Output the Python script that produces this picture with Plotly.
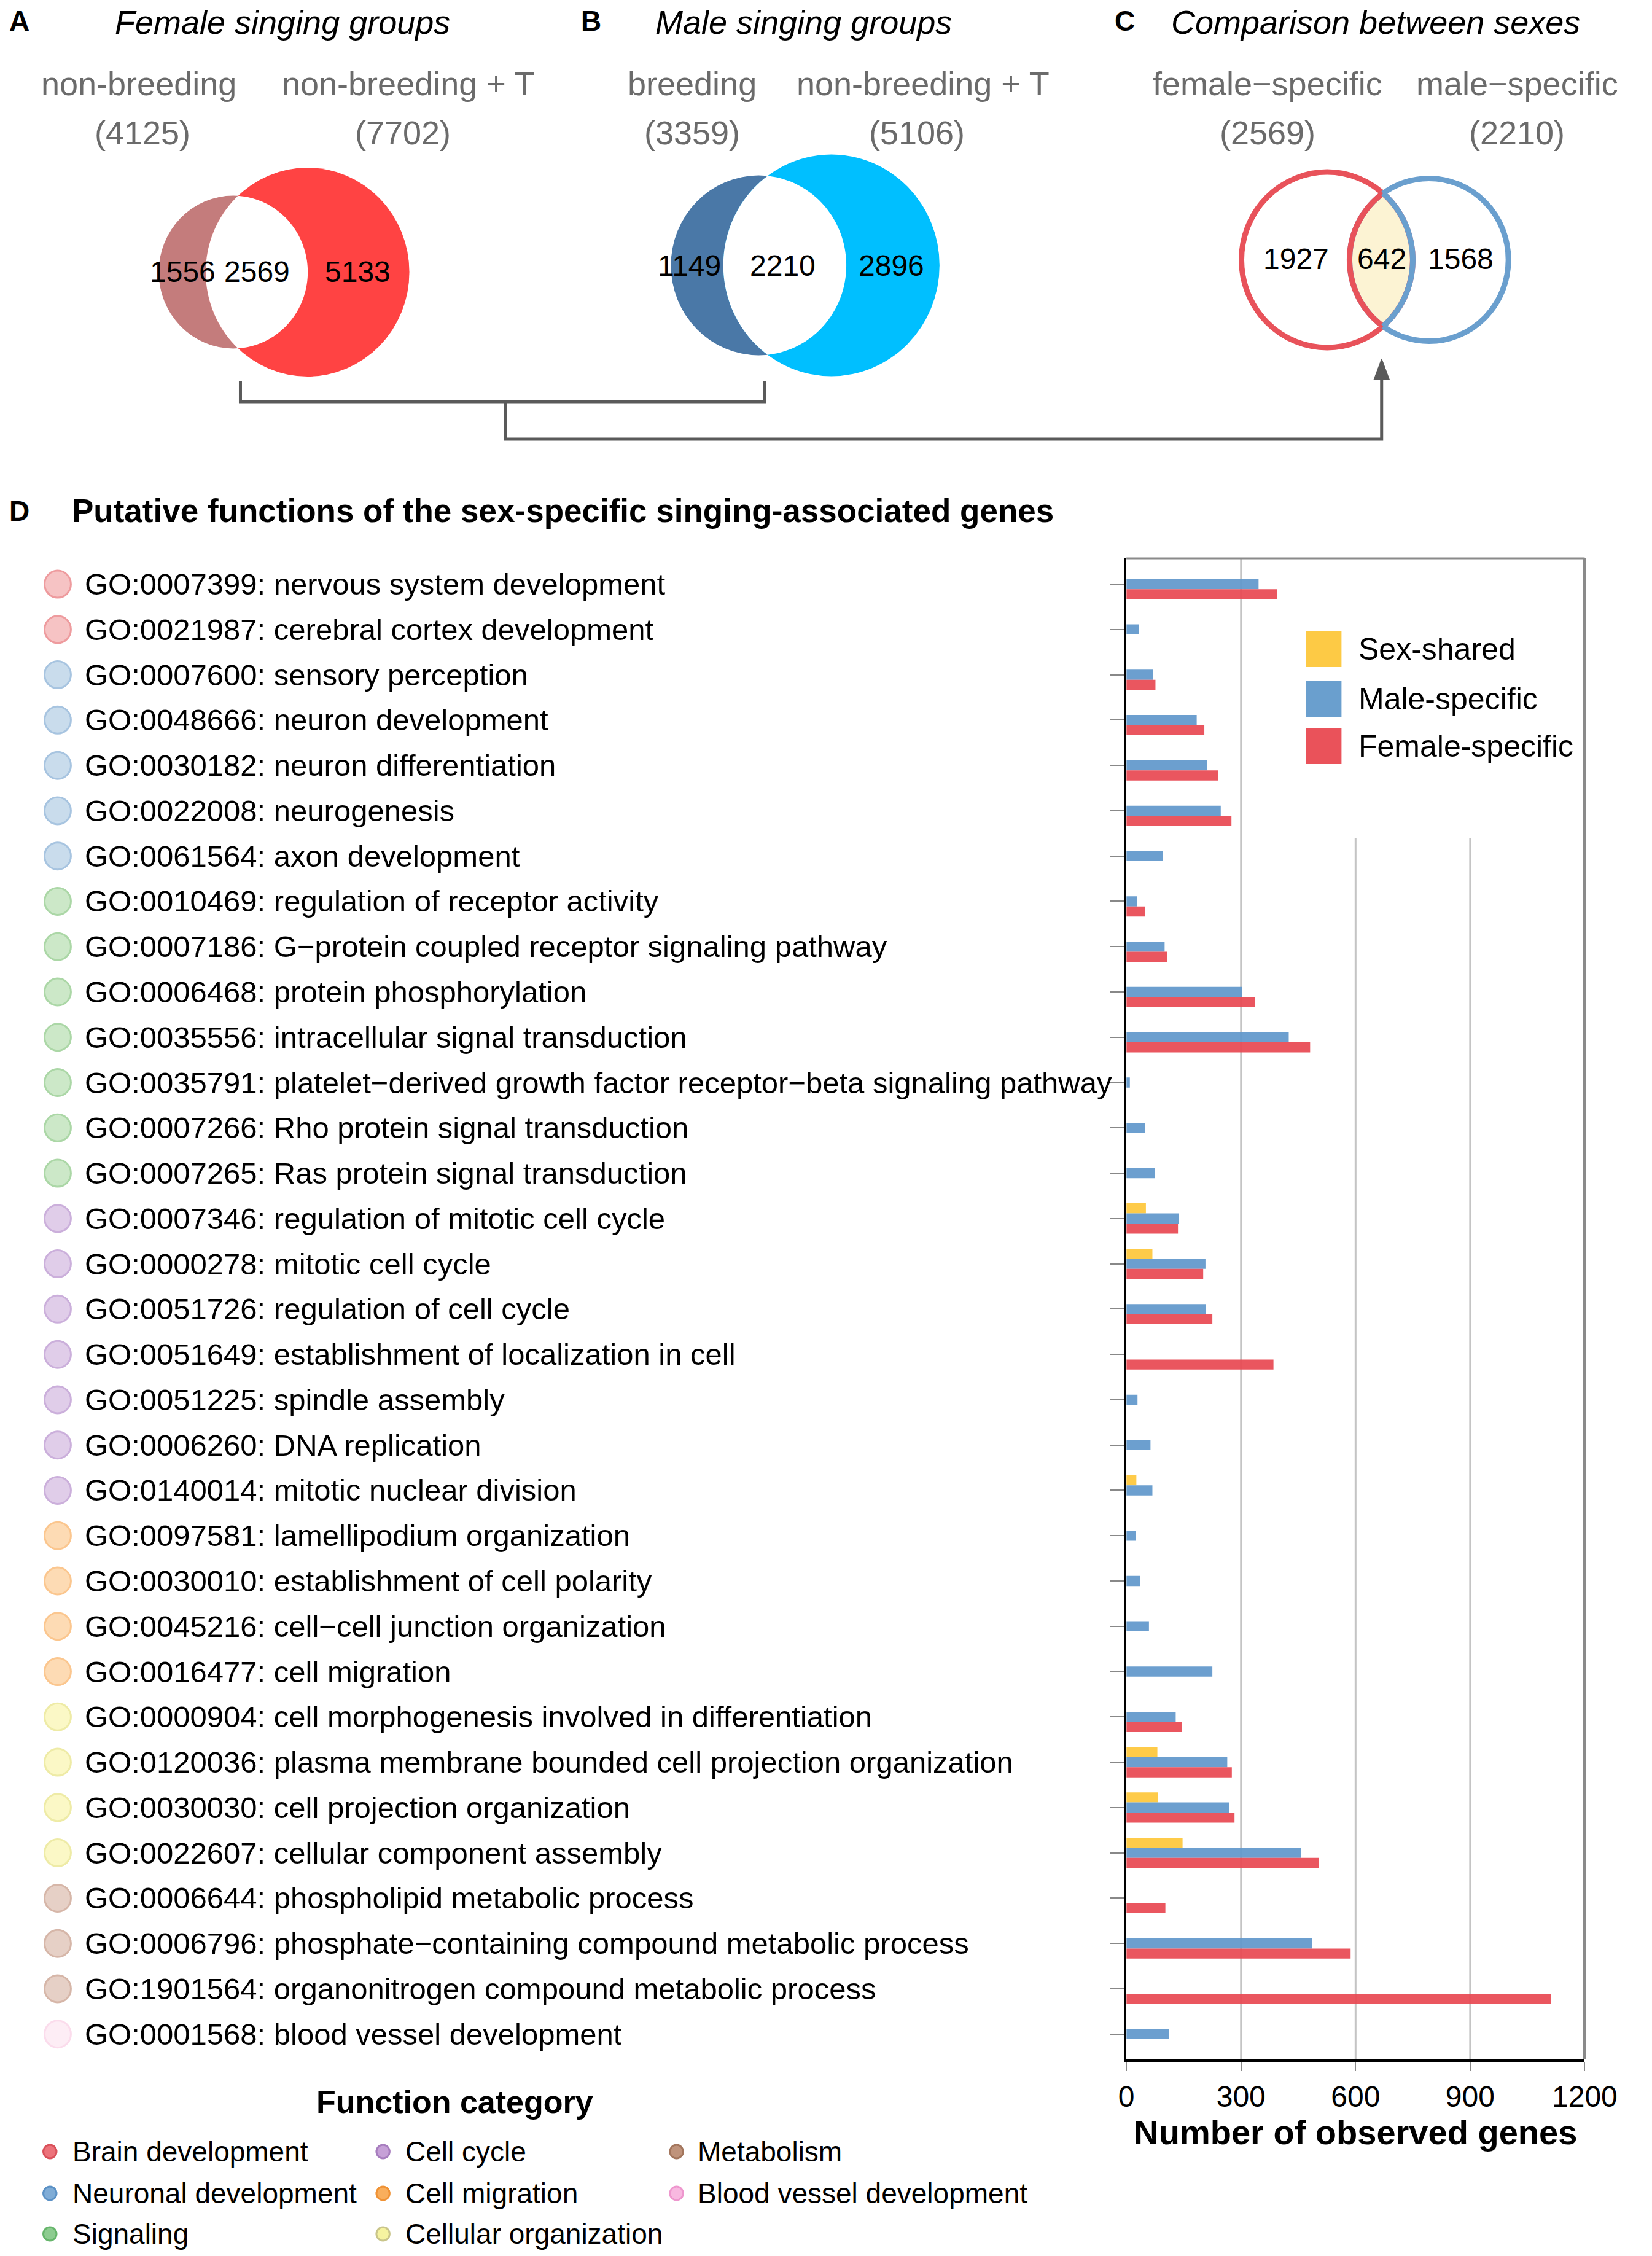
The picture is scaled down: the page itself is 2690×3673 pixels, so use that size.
import math
import numpy as np
import plotly.graph_objects as go

# ---------------- DATA ----------------
go_terms = [
    "GO:0007399: nervous system development",
    "GO:0021987: cerebral cortex development",
    "GO:0007600: sensory perception",
    "GO:0048666: neuron development",
    "GO:0030182: neuron differentiation",
    "GO:0022008: neurogenesis",
    "GO:0061564: axon development",
    "GO:0010469: regulation of receptor activity",
    "GO:0007186: G\u2212protein coupled receptor signaling pathway",
    "GO:0006468: protein phosphorylation",
    "GO:0035556: intracellular signal transduction",
    "GO:0035791: platelet\u2212derived growth factor receptor\u2212beta signaling pathway",
    "GO:0007266: Rho protein signal transduction",
    "GO:0007265: Ras protein signal transduction",
    "GO:0007346: regulation of mitotic cell cycle",
    "GO:0000278: mitotic cell cycle",
    "GO:0051726: regulation of cell cycle",
    "GO:0051649: establishment of localization in cell",
    "GO:0051225: spindle assembly",
    "GO:0006260: DNA replication",
    "GO:0140014: mitotic nuclear division",
    "GO:0097581: lamellipodium organization",
    "GO:0030010: establishment of cell polarity",
    "GO:0045216: cell\u2212cell junction organization",
    "GO:0016477: cell migration",
    "GO:0000904: cell morphogenesis involved in differentiation",
    "GO:0120036: plasma membrane bounded cell projection organization",
    "GO:0030030: cell projection organization",
    "GO:0022607: cellular component assembly",
    "GO:0006644: phospholipid metabolic process",
    "GO:0006796: phosphate\u2212containing compound metabolic process",
    "GO:1901564: organonitrogen compound metabolic process",
    "GO:0001568: blood vessel development",
]

term_category = (
    ["Brain development"] * 2
    + ["Neuronal development"] * 5
    + ["Signaling"] * 7
    + ["Cell cycle"] * 7
    + ["Cell migration"] * 4
    + ["Cellular organization"] * 4
    + ["Metabolism"] * 3
    + ["Blood vessel development"]
)

sex_shared = [None, None, None, None, None, None, None, None, None, None, None,
              None, None, None, 51, 68, None, None, None, None, 26, None, None,
              None, None, None, 81, 83, 147, None, None, None, None]
male_specific = [346, 33, 69, 184, 211, 247, 96, 28, 100, 302, 425, 9, 48, 75,
                 138, 207, 208, None, 29, 63, 68, 24, 36, 59, 225, 129, 264, 269,
                 457, None, 486, None, 111]
female_specific = [394, None, 76, 204, 240, 275, None, 48, 107, 337, 481, None,
                   None, None, 135, 201, 225, 385, None, None, None, None, None,
                   None, None, 146, 276, 283, 504, 102, 587, 1111, None]

series_names = ["Sex-shared", "Male-specific", "Female-specific"]
x_ticks = [0, 300, 600, 900, 1200]

category_order = ["Brain development", "Neuronal development", "Signaling",
                  "Cell cycle", "Cell migration", "Cellular organization",
                  "Metabolism", "Blood vessel development"]

venn_a_sets = ["non-breeding", "non-breeding + T"]
venn_a_totals = [4125, 7702]
venn_a_regions = [1556, 2569, 5133]
venn_b_sets = ["breeding", "non-breeding + T"]
venn_b_totals = [3359, 5106]
venn_b_regions = [1149, 2210, 2896]
venn_c_sets = ["female\u2212specific", "male\u2212specific"]
venn_c_totals = [2569, 2210]
venn_c_regions = [1927, 642, 1568]

# ---------------- STYLE / LAYOUT ----------------
W, H = 2690, 3673
FONT = "Liberation Sans, Arial, Helvetica, sans-serif"


def px(x):
    return x / W


def py(y):
    return 1 - y / H


bar_colors = ["rgba(254,199,58,0.92)", "rgba(96,151,203,0.92)", "rgba(232,72,81,0.92)"]
legend_colors = ["#FDCA45", "#6A9FCE", "#EA525A"]

row_circle_style = {
    "Brain development": ("#F6C3C4", "#EE9B9E"),
    "Neuronal development": ("#C9DCEC", "#A7C4E0"),
    "Signaling": ("#CCE8C8", "#ABD7A6"),
    "Cell cycle": ("#E0CDE9", "#CBAFDB"),
    "Cell migration": ("#FDDBB4", "#FBC68E"),
    "Cellular organization": ("#FBF8C6", "#EEEBA6"),
    "Metabolism": ("#E6D0C6", "#D6B6A8"),
    "Blood vessel development": ("#FDEDF5", "#FBDCEC"),
}
legend_dot_style = {
    "Brain development": ("#EC727A", "#D9505A"),
    "Neuronal development": ("#7FACD6", "#5B91C5"),
    "Signaling": ("#8DCC90", "#66B56B"),
    "Cell cycle": ("#C6A0D7", "#A77DBE"),
    "Cell migration": ("#F9AE5C", "#EF9235"),
    "Cellular organization": ("#F6F3A0", "#C9C58A"),
    "Metabolism": ("#BF937B", "#A3765D"),
    "Blood vessel development": ("#F8B8E0", "#EE97CE"),
}

# bar panel geometry (pixels)
PL, PR, PT, PB = 1867, 2632, 909, 3353
ROW_PAD_TOP, ROW_PAD_BOT = 0.57, 0.56

fig = go.Figure()
for name, vals, col in zip(series_names, [sex_shared, male_specific, female_specific], bar_colors):
    fig.add_trace(go.Bar(
        y=go_terms, x=vals, name=name, orientation="h",
        marker=dict(color=col, line=dict(width=0)),
        showlegend=False,
    ))

n = len(go_terms)
shapes = []
annotations = []

# custom grid lines (600/900 stop below the legend box)
for t in x_ticks[1:-1]:
    top = 1.0 if t < 600 else 1 - (1365 - PT) / (PB - PT)
    shapes.append(dict(type="line", xref="x", yref="y domain", x0=t, x1=t, y0=0, y1=top,
                       line=dict(color="#C4C4C4", width=3), layer="below"))
# top and right border
shapes.append(dict(type="line", xref="x domain", yref="y domain", x0=0, x1=1, y0=1, y1=1,
                   line=dict(color="#8A8A8A", width=3)))
shapes.append(dict(type="line", xref="x domain", yref="y domain", x0=1, x1=1, y0=0, y1=1,
                   line=dict(color="#8A8A8A", width=5)))

# left labels with category circles
unit_px = (PB - PT) / (n - 1 + ROW_PAD_TOP + ROW_PAD_BOT)
cr = 22 / unit_px
for i, (term, cat) in enumerate(zip(go_terms, term_category)):
    fc, lc = row_circle_style[cat]
    shapes.append(dict(type="circle", xref="paper", yref="y",
                       x0=px(83 - 22), x1=px(83 + 22), y0=i - cr, y1=i + cr,
                       fillcolor=fc, line=dict(color=lc, width=3)))
    annotations.append(dict(text=term, xref="paper", yref="y", x=px(126), y=term,
                            xanchor="left", yanchor="middle", showarrow=False,
                            font=dict(size=49, color="black", family=FONT)))

# bar legend (manual, large swatches)
for k, (name, col) in enumerate(zip(series_names, legend_colors)):
    yc = [1057, 1138, 1215][k]
    shapes.append(dict(type="rect", xref="paper", yref="paper",
                       x0=px(2167), x1=px(2226), y0=py(yc + 29), y1=py(yc - 29),
                       fillcolor=col, line=dict(width=0)))
    annotations.append(dict(text=name, xref="paper", yref="paper", x=px(2252), y=py(yc),
                            xanchor="left", yanchor="middle", showarrow=False,
                            font=dict(size=50, color="black", family=FONT)))

# ---------------- VENN DIAGRAMS ----------------


def circle_shape(cx, cy, r, fill=None, line_color=None, lw=0):
    d = dict(type="circle", xref="paper", yref="paper",
             x0=px(cx - r), x1=px(cx + r), y0=py(cy + r), y1=py(cy - r))
    d["fillcolor"] = fill if fill else "rgba(0,0,0,0)"
    d["line"] = dict(color=line_color if line_color else "rgba(0,0,0,0)", width=lw)
    return d


def lens_arcs(c1, r1, c2, r2, cy, m=90):
    d = c2 - c1
    a = (d * d + r1 * r1 - r2 * r2) / (2 * d)
    h = math.sqrt(r1 * r1 - a * a)
    t1 = math.atan2(h, a)
    arc1 = [(c1 + r1 * math.cos(t), cy + r1 * math.sin(t)) for t in np.linspace(-t1, t1, m)]
    phi = math.atan2(h, a - d)
    arc2 = [(c2 + r2 * math.cos(t), cy + r2 * math.sin(t)) for t in np.linspace(phi, 2 * math.pi - phi, m)]
    return arc1, arc2


def path_of(pts, close=False):
    s = "M " + " L ".join(f"{px(x):.6f},{py(y):.6f}" for x, y in pts)
    return s + (" Z" if close else "")


def text(t, x, y, size, color="black", anchor="center"):
    annotations.append(dict(text=t, xref="paper", yref="paper", x=px(x), y=py(y),
                            xanchor=anchor, yanchor="middle", showarrow=False,
                            font=dict(size=size, color=color, family=FONT)))


venn_panels = [
    dict(sets=venn_a_sets, totals=venn_a_totals, regions=venn_a_regions,
         cx=(376, 500), cy=443, k=1.937, fills=("#C47C7C", "#FF4343"),
         set_x=((218, 225), (668, 659)), reg_x=(292, 416, 584), reg_y=443),
    dict(sets=venn_b_sets, totals=venn_b_totals, regions=venn_b_regions,
         cx=(1253, 1374.5), cy=432, k=2.526, fills=("#4A78A7", "#00BFFF"),
         set_x=((1142, 1142), (1527, 1517)), reg_x=(1137, 1293, 1475), reg_y=432),
]
for vp in venn_panels:
    r1 = vp["k"] * math.sqrt(vp["totals"][0])
    r2 = vp["k"] * math.sqrt(vp["totals"][1])
    c1, c2 = vp["cx"]
    shapes.append(circle_shape(c1, vp["cy"], r1, fill=vp["fills"][0]))
    shapes.append(circle_shape(c2, vp["cy"], r2, fill=vp["fills"][1]))
    a1, a2 = lens_arcs(c1, r1, c2, r2, vp["cy"])
    shapes.append(dict(type="path", xref="paper", yref="paper", path=path_of(a1 + a2, True),
                       fillcolor="white", line=dict(width=0)))
    for (lx, tx), s, tot in zip(vp["set_x"], vp["sets"], vp["totals"]):
        text(s, lx, 136, 54, "#6B6B6B")
        text(f"({tot})", tx, 216, 54, "#6B6B6B")
    for rx, val in zip(vp["reg_x"], vp["regions"]):
        text(str(val), rx, vp["reg_y"], 48)

# panel C: outlined circles
cC1, cC2, cyC = 2202, 2372, 423
kC = 2.821
rC1 = kC * math.sqrt(venn_c_totals[0])
rC2 = kC * math.sqrt(venn_c_totals[1])
red_line, blue_line = "#E8525A", "#6A9FCE"
a1, a2 = lens_arcs(cC1, rC1, cC2, rC2, cyC)
shapes.append(dict(type="path", xref="paper", yref="paper", path=path_of(a1 + a2, True),
                   fillcolor="#FCF3D3", line=dict(width=0)))
shapes.append(circle_shape(cC1, cyC, rC1, line_color=red_line, lw=9))
shapes.append(circle_shape(cC2, cyC, rC2, line_color=blue_line, lw=9))
shapes.append(dict(type="path", xref="paper", yref="paper", path=path_of(a2),
                   fillcolor="rgba(0,0,0,0)", line=dict(color=red_line, width=9)))
shapes.append(dict(type="path", xref="paper", yref="paper", path=path_of(a1),
                   fillcolor="rgba(0,0,0,0)", line=dict(color=blue_line, width=9)))
for (lx, tx), s, tot in zip(((2103, 2103), (2519, 2519)), venn_c_sets, venn_c_totals):
    text(s, lx, 136, 54, "#6B6B6B")
    text(f"({tot})", tx, 216, 54, "#6B6B6B")
for rx, val in zip((2150, 2293, 2425), venn_c_regions):
    text(str(val), rx, 422, 48)

# connectors
conn = "#5A5A5A"
shapes.append(dict(type="path", xref="paper", yref="paper",
                   path=path_of([(388, 621), (388, 654), (1263, 654), (1263, 621)]),
                   fillcolor="rgba(0,0,0,0)", line=dict(color=conn, width=5)))
shapes.append(dict(type="path", xref="paper", yref="paper",
                   path=path_of([(830, 654), (830, 715), (2293, 715), (2293, 612)]),
                   fillcolor="rgba(0,0,0,0)", line=dict(color=conn, width=5)))
shapes.append(dict(type="path", xref="paper", yref="paper",
                   path=path_of([(2280, 618), (2306, 618), (2293, 584)], True),
                   fillcolor=conn, line=dict(color=conn, width=1)))

# panel letters and titles
text("<b>A</b>", 19, 34, 46)
text("<b>B</b>", 973, 34, 46)
text("<b>C</b>", 1864, 34, 46)
text("<b>D</b>", 19, 832, 46)
text("<i>Female singing groups</i>", 458, 36, 54)
text("<i>Male singing groups</i>", 1328, 36, 54)
text("<i>Comparison between sexes</i>", 2283, 36, 54)
text("<b>Putative functions of the sex-specific singing-associated genes</b>", 105, 832, 53,
     anchor="left")

# function category legend
text("<b>Function category</b>", 746, 3422, 52)
col_x = [(70, 106), (626, 661), (1116, 1149)]
row_y = [3503, 3571, 3637]
for j, cat in enumerate(category_order):
    c, r = divmod(j, 3)
    dx, tx = col_x[c]
    fc, lc = legend_dot_style[cat]
    shapes.append(circle_shape(dx, row_y[r], 11, fill=fc, line_color=lc, lw=3))
    text(cat, tx, row_y[r], 46, anchor="left")

fig.update_layout(
    width=W, height=H, margin=dict(l=0, r=0, t=0, b=0),
    paper_bgcolor="white", plot_bgcolor="white",
    barmode="group", bargap=0.33, bargroupgap=0,
    font=dict(family=FONT, color="black"),
    shapes=shapes, annotations=annotations,
    xaxis=dict(domain=[px(PL), px(PR)], range=[x_ticks[0], x_ticks[-1]],
               tickvals=x_ticks, ticktext=[str(t) for t in x_ticks],
               showgrid=False, zeroline=False,
               showline=True, linecolor="black", linewidth=4,
               ticks="outside", ticklen=15, tickwidth=2, tickcolor="#888888",
               tickfont=dict(size=48, color="black", family=FONT),
               title=dict(text="<b>Number of observed genes</b>", standoff=12,
                          font=dict(size=56, color="black", family=FONT))),
    yaxis=dict(domain=[py(PB), py(PT)], type="category",
               categoryorder="array", categoryarray=go_terms,
               range=[n - 1 + ROW_PAD_BOT, -ROW_PAD_TOP],
               showticklabels=False, showgrid=False, zeroline=False,
               showline=True, linecolor="black", linewidth=4,
               ticks="outside", ticklen=22, tickwidth=2, tickcolor="#888888"),
)

fig.write_html("out.html", config={"displayModeBar": False},
               post_script="document.body.style.margin='0';")
